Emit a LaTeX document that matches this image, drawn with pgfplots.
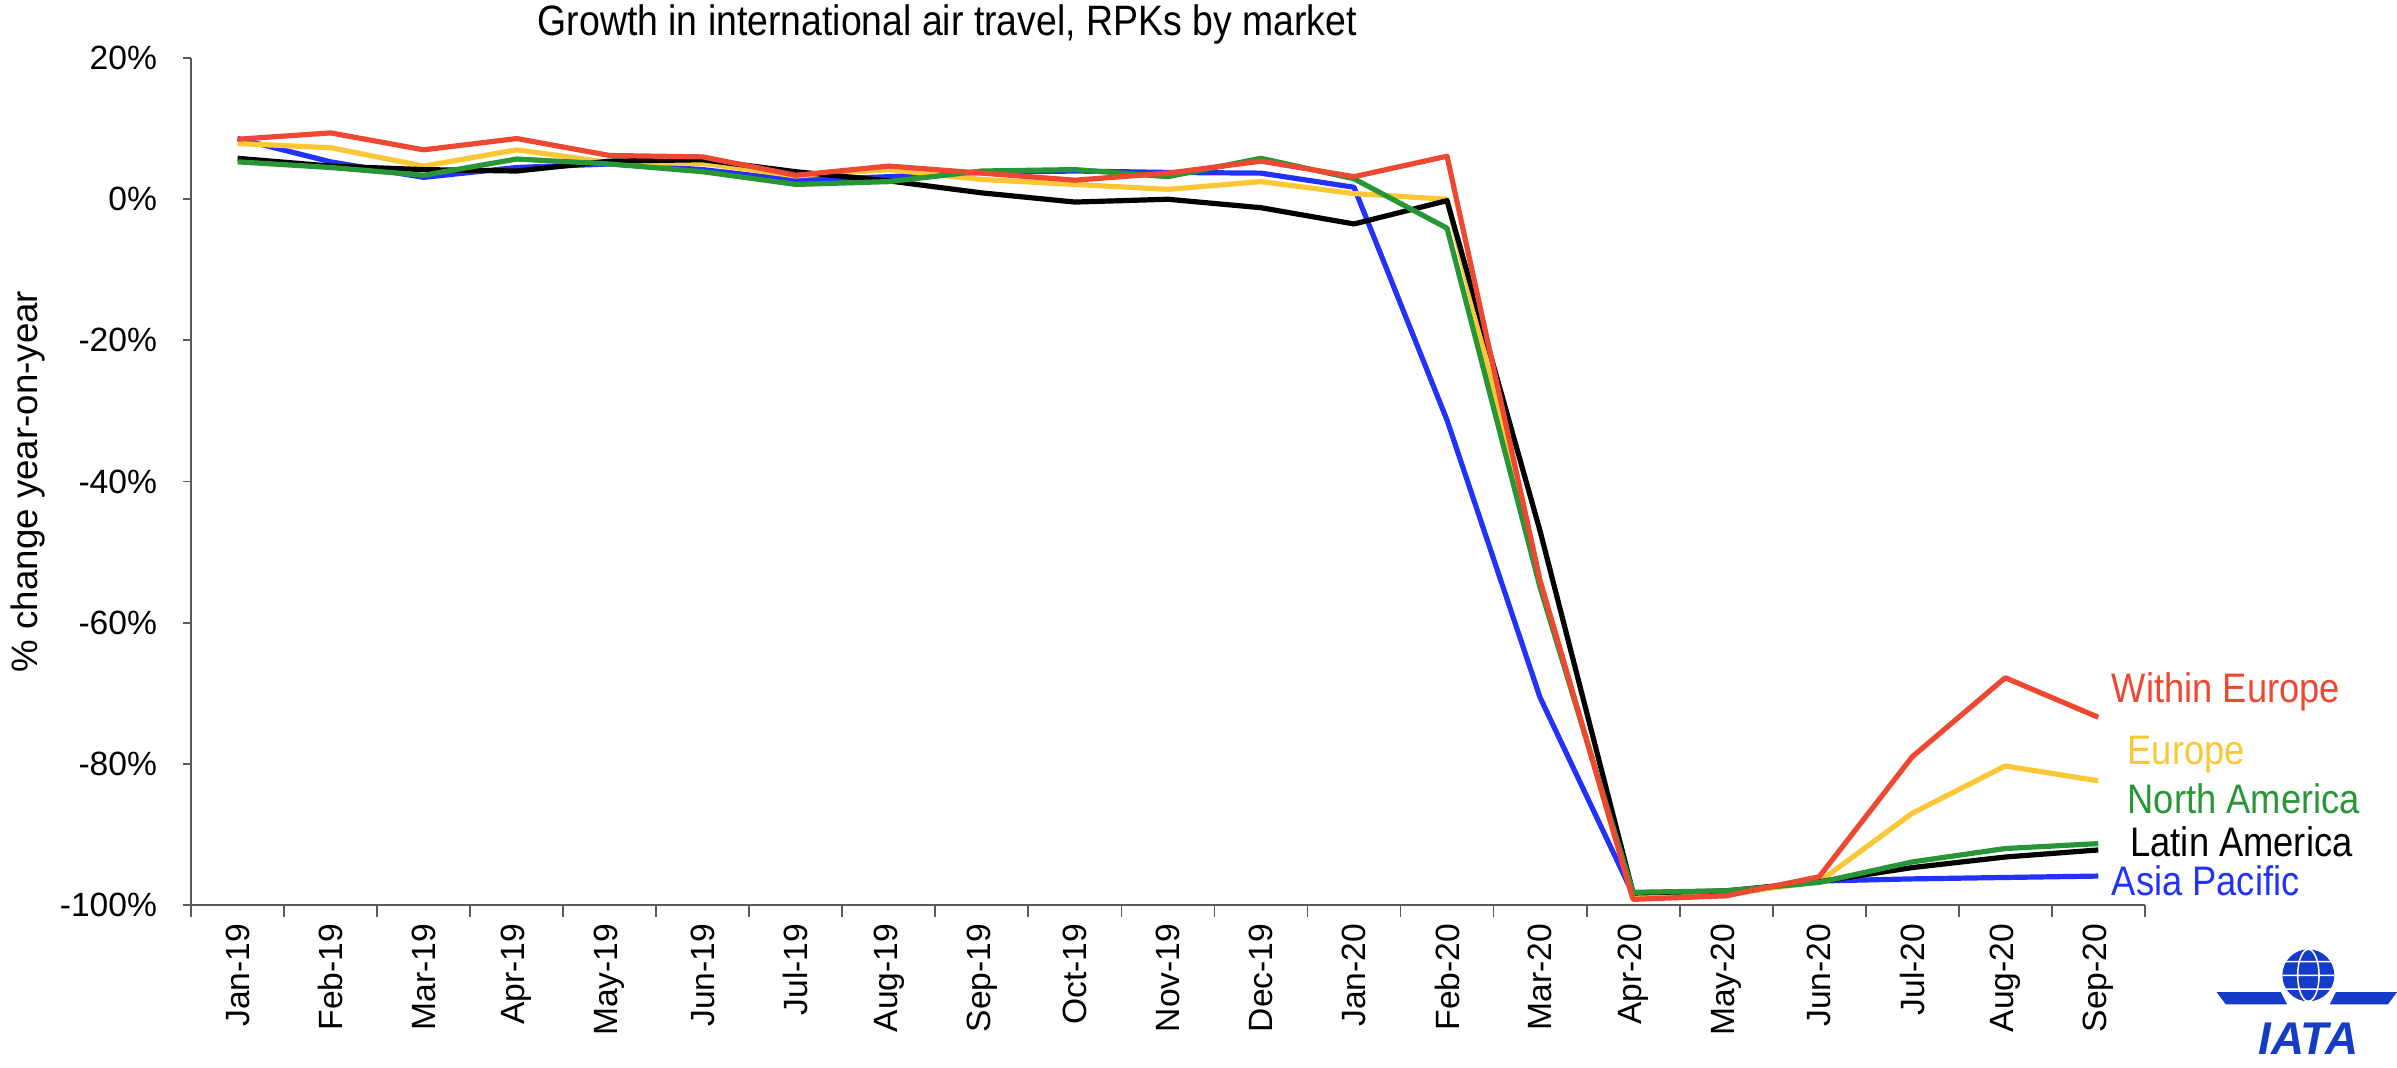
\documentclass[border=0pt]{standalone}
\usepackage{pgfplots}
\pgfplotsset{compat=1.18}
\usepackage{fontspec}
\setmainfont{Liberation Sans}
\newfontfamily\narrow[FakeStretch=0.88]{Liberation Sans}

\definecolor{cRed}{RGB}{238,72,50}
\definecolor{cYel}{RGB}{250,200,55}
\definecolor{cGrn}{RGB}{40,150,55}
\definecolor{cBlu}{RGB}{35,50,250}
\definecolor{axisgray}{RGB}{90,90,90}
\definecolor{logoblue}{RGB}{20,60,200}

% month index 0 = Jan-19 ... 20 = Sep-20
\pgfplotstableread{
m  within europe namer latam asia
0   8.5   7.9   5.3   5.8   8.6
1   9.4   7.3   4.5   4.7   5.3
2   7.0   4.7   3.4   4.2   3.1
3   8.6   7.0   5.7   4.0   4.5
4   6.2   5.2   5.0   5.4   5.0
5   6.0   5.1   3.9   5.6   4.2
6   3.4   3.3   2.1   3.9   2.7
7   4.7   4.2   2.5   2.6   3.2
8   3.7   2.8   4.0   0.9   3.8
9   2.7   2.1   4.2  -0.4   4.0
10  3.7   1.4   3.2   0.0   3.8
11  5.4   2.5   5.8  -1.2   3.7
12  3.2   0.8   2.9  -3.5   1.7
13  6.1   0.0  -4.1  -0.2  -31.3
14 -54.0 -54.5 -55.0 -47.0 -70.6
15 -99.2 -99.0 -98.2 -98.3 -98.5
16 -98.7 -98.5 -98.0 -98.0 -98.3
17 -96.0 -96.7 -96.8 -96.7 -96.6
18 -79.0 -87.0 -93.9 -94.7 -96.3
19 -67.8 -80.3 -92.0 -93.2 -96.1
20 -73.4 -82.4 -91.3 -92.2 -95.9
}\rpk

\begin{document}
\begin{tikzpicture}
\useasboundingbox (0,0) rectangle (784pt,349pt);
\begin{axis}[
  at={(62.5pt,53pt)}, anchor=south west,
  scale only axis, width=639pt, height=277pt,
  xmin=-0.5, xmax=20.5, ymin=-100, ymax=20,
  clip=false,
  axis x line*=bottom, axis y line*=left,
  axis line style={draw=axisgray, line width=0.6pt, -},
  tick align=outside,
  xtick={0,...,20},
  xticklabels={Jan-19,Feb-19,Mar-19,Apr-19,May-19,Jun-19,Jul-19,Aug-19,Sep-19,Oct-19,Nov-19,Dec-19,Jan-20,Feb-20,Mar-20,Apr-20,May-20,Jun-20,Jul-20,Aug-20,Sep-20},
  major x tick style={draw=none},
  minor xtick={-0.5,0.5,...,20.5},
  minor x tick style={draw=axisgray, line width=0.6pt},
  minor tick length=4pt,
  ytick={-100,-80,-60,-40,-20,0,20},
  yticklabels={-100\%,-80\%,-60\%,-40\%,-20\%,0\%,20\%},
  major y tick style={draw=axisgray, line width=0.6pt},
  major tick length=2.6pt,
  ticklabel style={font=\fontsize{11}{13}\selectfont},
  xticklabel style={rotate=90, anchor=east},
  yticklabel style={xshift=-5pt},
  ylabel={\% change year-on-year},
  every axis y label/.style={at={(axis description cs:-0.0837,0.5)}, rotate=90, anchor=center, font=\fontsize{12}{14}\selectfont},
  every axis plot/.append style={line width=1.7pt, line join=round},
]
\addplot[cBlu] table[x=m, y=asia] {\rpk};
\addplot[cYel] table[x=m, y=europe] {\rpk};
\addplot[black] table[x=m, y=latam] {\rpk};
\addplot[cGrn] table[x=m, y=namer] {\rpk};
\addplot[cRed] table[x=m, y=within] {\rpk};

\node[font=\narrow\fontsize{13.9}{16}\selectfont] at (axis description cs:0.387,1) [yshift=11pt] {Growth in international air travel, RPKs by market};

\begin{scope}[every node/.style={anchor=west, font=\narrow\fontsize{13.5}{15}\selectfont}]
\node[text=cRed] at (axis cs:20.03,-69.8) {Within Europe};
\node[text=cYel] at (axis cs:20.2,-78.7) {Europe};
\node[text=cGrn] at (axis cs:20.2,-84.9) {North America};
\node[text=black] at (axis cs:20.23,-91.0) {Latin America};
\node[text=cBlu] at (axis cs:20.03,-96.6) {Asia Pacific};
\end{scope}
\end{axis}

% IATA logo, roughly
\fill[logoblue] (755pt,30pt) circle (8.5pt);
\draw[white, line width=0.5pt] (755pt,30pt) ellipse (3.5pt and 8.5pt) (746.5pt,30pt) -- (763.5pt,30pt) (747.5pt,34.5pt) -- (762.5pt,34.5pt) (747.5pt,25.5pt) -- (762.5pt,25.5pt);
\fill[logoblue] (725pt,24.5pt) -- (746pt,24.5pt) -- (748pt,20.5pt) -- (728pt,20.5pt) -- cycle;
\fill[logoblue] (784pt,24.5pt) -- (764pt,24.5pt) -- (762pt,20.5pt) -- (781pt,20.5pt) -- cycle;
\node[text=logoblue, font=\bfseries\itshape\fontsize{15}{15}\selectfont, anchor=base] at (755pt,4pt) {IATA};
\end{tikzpicture}
\end{document}
